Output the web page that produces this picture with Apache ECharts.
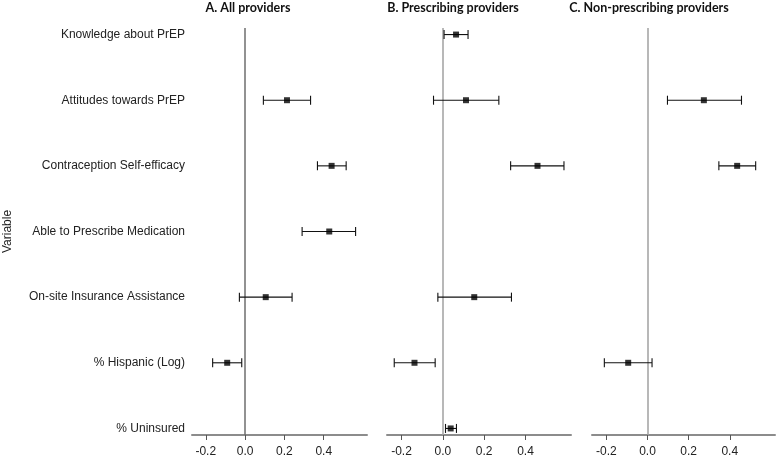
<!DOCTYPE html>
<html>
<head>
<meta charset="utf-8">
<script src="https://cdn.jsdelivr.net/npm/echarts@6/dist/echarts.min.js"></script>
<style>html,body{margin:0;padding:0;background:#fff}#c{width:777px;height:461px}</style>
</head>
<body>
<div id="c"></div>
<script>
// Variables listed top to bottom
const variables = ["Knowledge about PrEP","Attitudes towards PrEP","Contraception Self-efficacy","Able to Prescribe Medication","On-site Insurance Assistance","% Hispanic (Log)","% Uninsured"];
const panelTitles = ["A. All providers","B. Prescribing providers","C. Non-prescribing providers"];
const tickValues = [-0.2, 0.0, 0.2, 0.4];

// Panel A: All providers
const allEst  = [null, 0.213, 0.440, 0.428, 0.105, -0.091, null];
const allLow  = [null, 0.093, 0.368, 0.290, -0.029, -0.165, null];
const allHigh = [null, 0.333, 0.514, 0.562, 0.239, -0.017, null];
// Panel B: Prescribing providers
const preEst  = [0.064, 0.112, 0.458, null, 0.152, -0.137, 0.038];
const preLow  = [0.006, -0.045, 0.328, null, -0.024, -0.235, 0.013];
const preHigh = [0.122, 0.271, 0.586, null, 0.332, -0.037, 0.066];
// Panel C: Non-prescribing providers
const nonEst  = [null, 0.274, 0.436, null, null, -0.094, null];
const nonLow  = [null, 0.097, 0.347, null, null, -0.210, null];
const nonHigh = [null, 0.457, 0.526, null, null, 0.022, null];

const panels = [
  {est: allEst, lo: allLow, hi: allHigh},
  {est: preEst, lo: preLow, hi: preHigh},
  {est: nonEst, lo: nonLow, hi: nonHigh}
];

const n = variables.length;
const posOf = i => n - 1 - i; // top item gets highest position
const FONT = "'Liberation Sans', Arial, sans-serif";

const grids = [
  {left: 192, width: 175, top: 28, bottom: 26},
  {left: 387, width: 184, top: 28, bottom: 26},
  {left: 592, width: 183, top: 28, bottom: 26}
];
const zeroColors = ['#6e6e6e', '#a0a0a0', '#a0a0a0'];
const titleCenters = [243, 448, 644];

const xAxes = grids.map((g, k) => ({
  type: 'value', gridIndex: k, min: -0.27, max: 0.62,
  splitLine: {show: false},
  axisLine: {show: true, onZero: false, lineStyle: {color: '#8c8c8c', width: 2}},
  axisTick: {show: true, length: 5, customValues: tickValues, lineStyle: {color: '#555', width: 1}},
  axisLabel: {customValues: tickValues, formatter: v => v.toFixed(1), margin: 11,
    fontFamily: FONT, fontSize: 12, color: '#222'}
}));

const yAxes = grids.map((g, k) => ({
  type: 'value', gridIndex: k, min: -0.1, max: n - 1 + 0.1,
  splitLine: {show: false},
  axisLine: {show: false}, axisTick: {show: false},
  axisLabel: k === 0 ? {
    show: true, customValues: variables.map((v, i) => posOf(i)),
    formatter: v => variables[n - 1 - Math.round(v)], margin: 7,
    fontFamily: FONT, fontSize: 12, color: '#222'
  } : {show: false},
  name: k === 0 ? 'Variable' : '',
  nameLocation: 'middle', nameRotate: 90, nameGap: 178,
  nameTextStyle: {fontFamily: FONT, fontSize: 12, color: '#222'}
}));

const series = [];
panels.forEach((p, k) => {
  const bars = [], pts = [];
  p.est.forEach((e, i) => {
    if (e === null) return;
    bars.push([p.lo[i], p.hi[i], posOf(i)]);
    pts.push([e, posOf(i)]);
  });
  series.push({
    type: 'custom', xAxisIndex: k, yAxisIndex: k, silent: true,
    data: bars,
    encode: {x: [0, 1], y: 2},
    renderItem: (params, api) => {
      const a = api.coord([api.value(0), api.value(2)]);
      const b = api.coord([api.value(1), api.value(2)]);
      const h = 4.5;
      const style = {stroke: '#111', lineWidth: 1.1, fill: null};
      return {type: 'group', children: [
        {type: 'line', shape: {x1: a[0], y1: a[1], x2: b[0], y2: b[1]}, style},
        {type: 'line', shape: {x1: a[0], y1: a[1] - h, x2: a[0], y2: a[1] + h}, style},
        {type: 'line', shape: {x1: b[0], y1: b[1] - h, x2: b[0], y2: b[1] + h}, style}
      ]};
    },
    z: 3
  });
  series.push({
    type: 'scatter', xAxisIndex: k, yAxisIndex: k, silent: true,
    data: pts, symbol: 'rect', symbolSize: 6,
    itemStyle: {color: '#000'}, z: 4,
    markLine: {
      silent: true, symbol: 'none', label: {show: false},
      lineStyle: {color: zeroColors[k], width: 1.5, type: 'solid'},
      data: [{xAxis: 0}], z: 1
    }
  });
});

const chart = echarts.init(document.getElementById('c'), null, {renderer: 'canvas'});
chart.setOption({
  animation: false,
  backgroundColor: '#fff',
  title: panelTitles.map((t, k) => ({
    text: t, left: titleCenters[k], top: -4, textAlign: 'center',
    textStyle: {fontFamily: 'Lato, "Open Sans", sans-serif', fontWeight: 'bold', fontSize: 12.5, color: '#111'}
  })),
  grid: grids,
  xAxis: xAxes,
  yAxis: yAxes,
  series: series
});
</script>
</body>
</html>
